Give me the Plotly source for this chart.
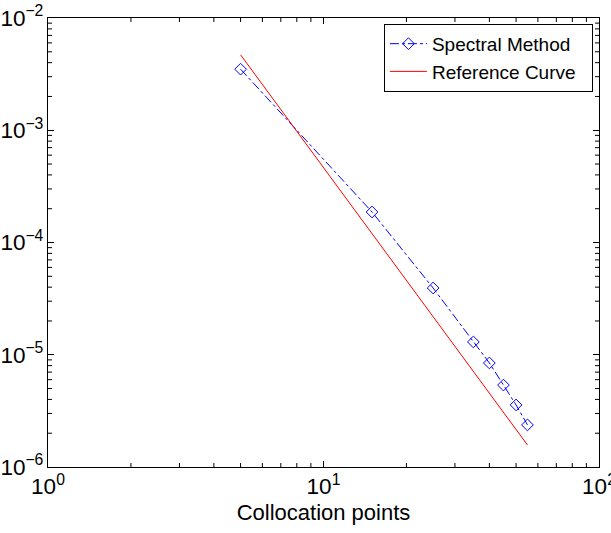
import plotly.graph_objects as go

n_points = [5, 15, 25, 35, 40, 45, 50, 55]
spectral_err = [3.5e-3, 1.87e-4, 3.93e-5, 1.30e-5, 8.45e-6, 5.37e-6, 3.57e-6, 2.37e-6]
ref_n = [5, 55]
ref_err = [4.7e-3, 1.57e-6]

x_alias = {"1": "10<sup>0</sup>", "10": "10<sup>1</sup>", "100": "10<sup>2</sup>"}
x_minorvals = [2, 3, 4, 5, 6, 7, 8, 9, 20, 30, 40, 50, 60, 70, 80, 90]
y_minorvals = [m * 10.0 ** e for e in (-6, -5, -4, -3) for m in range(2, 10)]

FONT = "Liberation Sans, Arial, Helvetica, sans-serif"
PAD = "\u00a0\u00a0"

fig = go.Figure()
fig.add_trace(go.Scatter(
    x=n_points, y=spectral_err, mode="lines+markers", name="Spectral Method" + PAD,
    line=dict(color="#0000ff", width=1, dash="dashdot"),
    marker=dict(symbol="diamond-open", size=9, color="#0000ff", line=dict(width=1, color="#0000ff")),
))
fig.add_trace(go.Scatter(
    x=ref_n, y=ref_err, mode="lines", name="Reference Curve" + PAD,
    line=dict(color="#ff0000", width=1),
))

# minor tick marks on all four sides (pixel-length lines anchored at the tick values)
tick_line = dict(color="black", width=1)
MINOR_LEN = 4
for v in x_minorvals:
    for anchor, sign in ((0, 1), (1, -1)):
        fig.add_shape(type="line", xref="x", yref="y domain", x0=v, x1=v,
                      ysizemode="pixel", yanchor=anchor, y0=0, y1=sign * MINOR_LEN,
                      line=tick_line, layer="above")
for v in y_minorvals:
    for anchor, sign in ((0, 1), (1, -1)):
        fig.add_shape(type="line", yref="y", xref="x domain", y0=v, y1=v,
                      xsizemode="pixel", xanchor=anchor, x0=0, x1=sign * MINOR_LEN,
                      line=tick_line, layer="above")

axis_common = dict(
    type="log", showgrid=False, zeroline=False, showline=True, linecolor="black", linewidth=1,
    mirror="ticks", ticks="inside", ticklen=6, tickcolor="black", tickwidth=1,
    tickmode="linear", tick0=0, dtick=1, exponentformat="power",
    tickfont=dict(family=FONT, size=18, color="black"), automargin=False,
    ticklabeloverflow="allow",
)

fig.update_layout(
    width=611, height=533,
    margin=dict(l=48, r=12, t=18, b=66),
    paper_bgcolor="white", plot_bgcolor="white",
    font=dict(family=FONT, color="black"),
    xaxis=dict(axis_common, range=[0, 2], labelalias=x_alias,
               title=dict(text="Collocation points", font=dict(size=22), standoff=6)),
    yaxis=dict(axis_common, range=[-6, -2]),
    legend=dict(x=0.989, y=0.987, xanchor="right", yanchor="top",
                bordercolor="black", borderwidth=1, bgcolor="white",
                font=dict(size=19), tracegroupgap=0, itemwidth=37),
    showlegend=True,
)

fig.write_html("out.html", config={"displayModeBar": False},
               post_script="document.body.style.margin='0px';")
